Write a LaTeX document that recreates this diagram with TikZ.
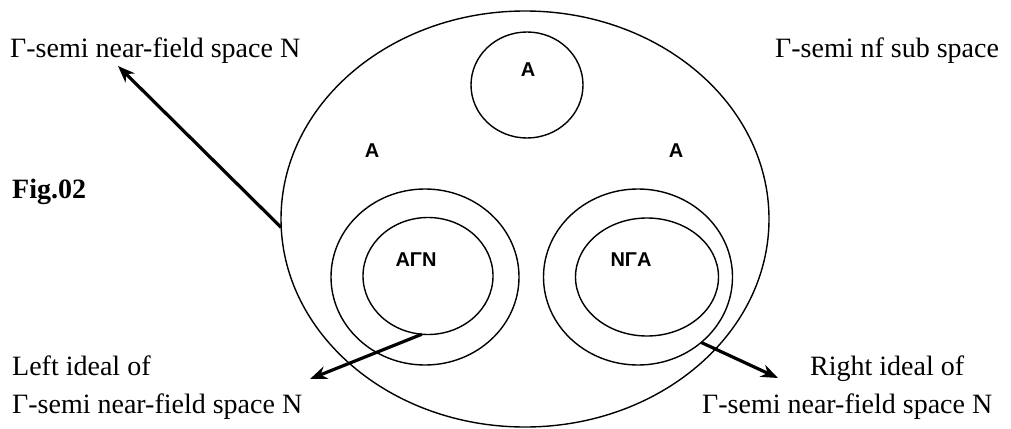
\documentclass[tikz,border=0pt]{standalone}
\usepackage{fontspec}
\setmainfont{Liberation Serif}
\setsansfont{Liberation Sans}
\usetikzlibrary{arrows.meta,shapes.geometric}

\tikzset{
  ring/.style={draw, ellipse, line width=1.4pt, inner sep=0pt, outer sep=0pt},
  lbl/.style={font=\fontsize{28}{34}\selectfont, anchor=base west, inner sep=0pt},
  setname/.style={font=\sffamily\bfseries\fontsize{20}{24}\selectfont, inner sep=0pt},
  pointer/.style={-{Stealth[length=17pt,width=13pt]}, line width=3.2pt},
}

\begin{document}
\begin{tikzpicture}[x=1pt,y=-1pt]
    \useasboundingbox (0,0) rectangle (1011,428);

    % Espacio y subespacio
    \node[ring, minimum width=488pt, minimum height=416pt] (space) at (525,219) {};
    \node[ring, minimum width=112pt, minimum height=106pt] (sub) at (527,85) {};

    % Ideales izquierdo y derecho
    \node[ring, minimum width=188pt, minimum height=176pt] (oleft) at (425,277) {};
    \node[ring, minimum width=130pt, minimum height=117pt] (ileft) at (428,276) {};
    \node[ring, minimum width=189pt, minimum height=176pt] (oright) at (638,277) {};
    \node[ring, minimum width=143pt, minimum height=118pt] (iright) at (647,277) {};

    % Nombres de los conjuntos
    \node[setname] (atop) at (528,70) {A};
    \node[setname] (aleft) at (372,151) {A};
    \node[setname] (aright) at (676,151) {A};
    \node[setname] (agn) at (416,260) {AΓN};
    \node[setname] (nga) at (631,260) {NΓA};

    % Textos
    \node[lbl] (spacetxt) at (10,57) {Γ-semi near-field space N};
    \node[lbl] (subtxt) at (775,57) {Γ-semi nf sub space};
    \node[lbl, font=\bfseries\fontsize{28}{34}\selectfont] (fig) at (12,198) {Fig.02};
    \node[lbl] (lefttxt) at (12,375) {Left ideal of};
    \node[lbl] (leftsp) at (12,413) {Γ-semi near-field space N};
    \node[lbl] (righttxt) at (810,375) {Right ideal of};
    \node[lbl] (rightsp) at (702,413) {Γ-semi near-field space N};

    % Flechas
    \coordinate (tipNW) at (118,66);
    \coordinate (tipL) at (310,379);
    \coordinate (tipR) at (778,378);
    \draw[pointer] (space.182) -- (tipNW);
    \draw[pointer] (ileft.264) -- (tipL);
    \draw[pointer] (oright.314) -- (tipR);
\end{tikzpicture}
\end{document}
